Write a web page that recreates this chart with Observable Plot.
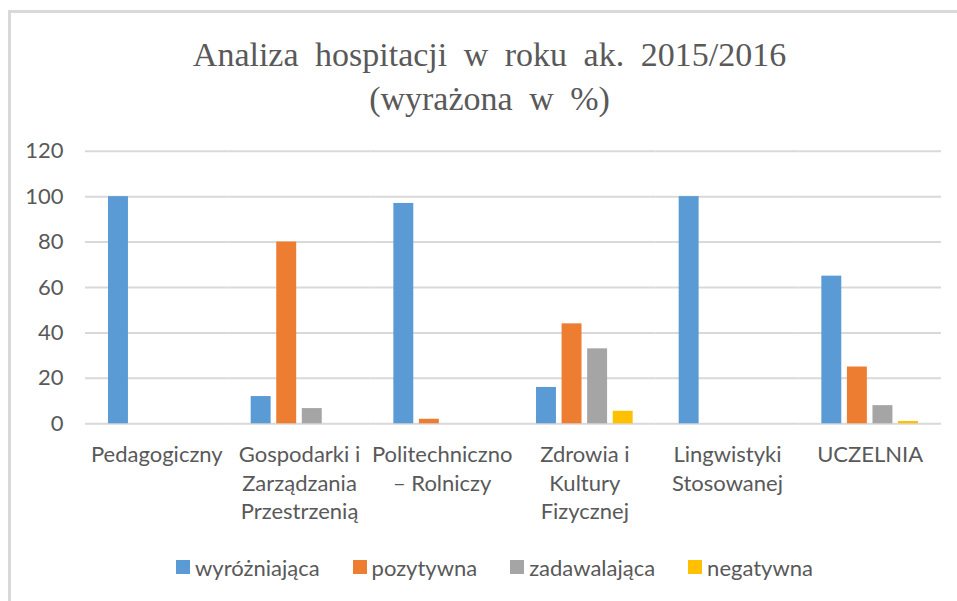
<!DOCTYPE html>
<html><head><meta charset="utf-8">
<script src="https://cdn.jsdelivr.net/npm/d3@7"></script>
<script src="https://cdn.jsdelivr.net/npm/@observablehq/plot@0.6"></script>
<style>
body{margin:0;width:957px;height:601px;overflow:hidden;background:#fff;position:relative;font-family:Lato,sans-serif;}
#frame{position:absolute;left:8px;top:10px;width:1200px;height:800px;border-left:3px solid #d9d9d9;border-top:3px solid #d9d9d9;}
#title{position:absolute;left:0;top:32.5px;width:979px;text-align:center;font-family:"Liberation Serif",serif;font-size:34px;line-height:44px;color:#595959;word-spacing:8px;}
#chart{position:absolute;left:0;top:130px;}
#legend{position:absolute;left:0;top:553px;width:989px;height:28px;display:flex;justify-content:center;align-items:center;gap:33px;font-size:22px;color:#595959;}
.item{display:flex;align-items:center;}
.sw{width:14px;height:14px;margin-right:5px;}
</style></head>
<body>
<div id="frame"></div>
<div id="title">Analiza hospitacji w roku ak. 2015/2016<br>(wyrażona w %)</div>
<div id="chart"></div>
<div id="legend"></div>
<script>
const categories = ["Pedagogiczny","Gospodarki i Zarządzania Przestrzenią","Politechniczno – Rolniczy","Zdrowia i Kultury Fizycznej","Lingwistyki Stosowanej","UCZELNIA"];
const categoryLabels = ["Pedagogiczny","Gospodarki i\nZarządzania\nPrzestrzenią","Politechniczno\n– Rolniczy","Zdrowia i\nKultury\nFizycznej","Lingwistyki\nStosowanej","UCZELNIA"];
const series = ["wyróżniająca","pozytywna","zadawalająca","negatywna"];
const wyrozniajaca = [100,12,97,16,100,65];
const pozytywna = [0,80,2,44,0,25];
const zadawalajaca = [0,6.7,0,33,0,8];
const negatywna = [0,0,0,5.5,0,1];
const yTicks = [0,20,40,60,80,100,120];
const colors = ["#5b9bd5","#ed7d31","#a5a5a5","#ffc000"];

const valuesBySeries = [wyrozniajaca,pozytywna,zadawalajaca,negatywna];
const rows = [];
categories.forEach((c,i)=>series.forEach((s,j)=>{
  const v = valuesBySeries[j][i];
  if (v > 0) rows.push({cat:c, series:s, value:v});
}));

const chart = Plot.plot({
  width:957, height:400,
  marginLeft:85, marginRight:16, marginTop:20.7, marginBottom:106.7,
  fx:{domain:categories, padding:0, round:false, label:null, axis:null},
  x:{domain:series, paddingInner:0.22, paddingOuter:0.9, round:false, axis:null},
  y:{domain:[0,120], label:null},
  color:{domain:series, range:colors},
  style:{fontFamily:"Lato, sans-serif", color:"#595959", background:"transparent", overflow:"visible"},
  marks:[
    Plot.gridY(yTicks,{stroke:"#d9d9d9", strokeOpacity:1, strokeWidth:2}),
    Plot.axisY(yTicks,{tickSize:0, tickPadding:22, fontSize:22, label:null}),
    Plot.axisFx({anchor:"bottom", tickSize:0, tickPadding:18, fontSize:22, lineHeight:1.3, label:null,
      tickFormat:d=>categoryLabels[categories.indexOf(d)]}),
    Plot.barY(rows,{fx:"cat", x:"series", y:"value", fill:"series"})
  ]
});
document.getElementById("chart").appendChild(chart);

const legend = document.getElementById("legend");
series.forEach((s,j)=>{
  const it = document.createElement("div"); it.className="item";
  const sw = document.createElement("div"); sw.className="sw"; sw.style.background=colors[j];
  const t = document.createElement("span"); t.textContent=s;
  it.appendChild(sw); it.appendChild(t); legend.appendChild(it);
});
</script>
</body></html>
